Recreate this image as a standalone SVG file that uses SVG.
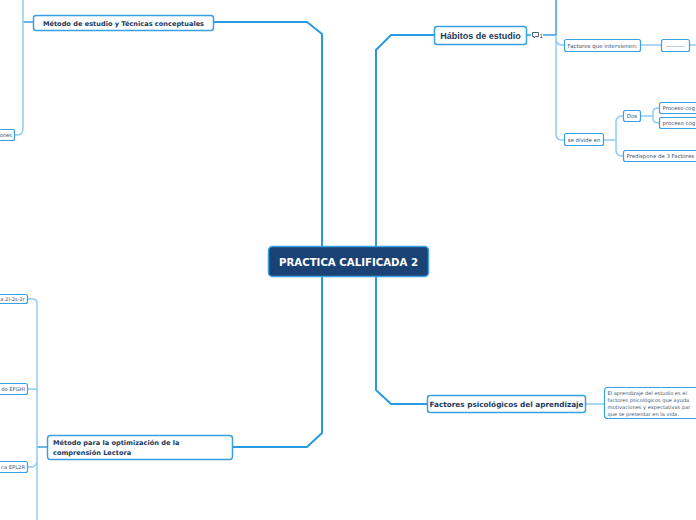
<svg xmlns="http://www.w3.org/2000/svg" width="696" height="520" viewBox="0 0 696 520">
<style>
.main{fill:none;stroke:#2a9ae0;stroke-width:2}
.sub{fill:none;stroke:#8fcdf2;stroke-width:1.5}
.subd{fill:none;stroke:#3a9ee0;stroke-width:1.5}
.n1{fill:#fff;stroke:#3aa0e4;stroke-width:1.5}
.n2{fill:#fff;stroke:#3aa0e4;stroke-width:1.2}
.t1{font-family:"DejaVu Sans",Verdana,sans-serif;font-weight:bold;fill:#1b3a5c}
.t2{font-family:"DejaVu Sans",Verdana,sans-serif;fill:#3d5670}
</style>
<rect width="696" height="520" fill="#fff"/>
<g id="connectors">
<path class="main" d="M214 22 H307 L322 34 V246"/>
<path class="main" d="M322 276 V433 L307 447 H233"/>
<path class="main" d="M376 246 V50 L391 35 H434"/>
<path class="main" d="M376 276 V390 L391 404 H427"/>
<path class="subd" d="M527 35 H531"/>
<path class="subd" d="M543 35 H556"/>
<path class="subd" d="M556 0 V35"/>
<path class="sub" d="M556 35 V134 Q556 140 562 140 H564"/>
<path class="sub" d="M556 40 Q557 45 562 45 H564"/>
<path class="sub" d="M641 45 H661"/>
<path class="sub" d="M690 45 H696"/>
<path class="sub" d="M604 140 H616"/>
<path class="sub" d="M616 140 V122 Q616 116 622 116 H623"/>
<path class="sub" d="M616 140 V150 Q616 156 622 156 H623"/>
<path class="sub" d="M641 116 H653"/>
<path class="sub" d="M653 116 V112 Q653 108 659 108"/>
<path class="sub" d="M653 116 V119 Q653 123 659 123"/>
<path class="sub" d="M586 404 H604"/>
<circle cx="597" cy="404" r="0.8" fill="#8fcdf2"/>
<path class="subd" d="M23 22 H33"/>
<path class="sub" d="M23 0 V128 Q23 135 17 135 H15"/>
<path class="subd" d="M37 447 H47"/>
<path class="sub" d="M37 520 V303 Q37 299 33 299 H28"/>
<path class="sub" d="M37 390 Q36 389 33 389 H28"/>
<path class="sub" d="M37 462 Q35 467 32 467 H28"/>
</g>
<g id="central">
<rect x="268.5" y="246.5" width="160" height="30" rx="4" fill="#1a4274" stroke="#3aa0e4" stroke-width="1.5"/>
<text x="348.5" y="265.5" text-anchor="middle" font-family="DejaVu Sans,Verdana,sans-serif" font-weight="bold" font-size="10.2" fill="#fff">PRACTICA CALIFICADA 2</text>
</g>
<g id="habitos">
<rect class="n1" x="434.5" y="26.5" width="92" height="18" rx="2.5"/>
<text x="480.5" y="38.5" text-anchor="middle" font-family="Liberation Sans,Arial,sans-serif" font-weight="bold" font-size="9" fill="#1b3a5c">Hábitos de estudio</text>
</g>
<g id="comment">
<path d="M532.5 32.5 H538.5 V36.5 H535.5 L534 38 V36.5 H532.5 Z" fill="none" stroke="#1b3a5c" stroke-width="0.8"/>
<text x="539.5" y="38" font-family="Liberation Sans,Arial,sans-serif" font-size="6" fill="#1b3a5c">1</text>
</g>
<g id="factores-intervienen">
<rect class="n2" x="564.5" y="39.5" width="76" height="12" rx="2"/>
<text x="567.5" y="47.5" class="t2" font-size="5.5">Factores que intervienen:</text>
</g>
<g id="dashes">
<rect class="n2" x="661.5" y="39.5" width="28" height="12" rx="2"/>
<text x="675.5" y="47.5" text-anchor="middle" class="t2" font-size="5.2">----------</text>
</g>
<g id="se-divide">
<rect class="n2" x="564.5" y="133.5" width="39" height="12" rx="2"/>
<text x="584" y="141.5" text-anchor="middle" class="t2" font-size="5.4">se divide en</text>
</g>
<g id="dos">
<rect class="n2" x="623.5" y="110.5" width="17" height="11" rx="2"/>
<text x="632" y="118" text-anchor="middle" class="t2" font-size="5.4">Dos</text>
</g>
<g id="proceso1">
<rect class="n2" x="659.5" y="102.5" width="45" height="11" rx="2"/>
<text x="662.5" y="110" class="t2" font-size="5.4">Proceso cog</text>
</g>
<g id="proceso2">
<rect class="n2" x="659.5" y="117.5" width="45" height="11" rx="2"/>
<text x="662.5" y="125" class="t2" font-size="5.4">proceso cog</text>
</g>
<g id="predispone">
<rect class="n2" x="623.5" y="150.5" width="80" height="11" rx="2"/>
<text x="626.5" y="158" class="t2" font-size="5.4">Predispone de 3 Factores</text>
</g>
<g id="factores-psico">
<rect class="n1" x="427.5" y="395.5" width="158" height="17" rx="2.5"/>
<text x="506.5" y="406.5" text-anchor="middle" class="t1" font-size="7.3">Factores psicológicos del aprendizaje</text>
</g>
<g id="texto-aprendizaje">
<rect class="n2" x="604.5" y="387.5" width="100" height="31" rx="3"/>
<text class="t2" font-size="5.1" fill="#34506c">
<tspan x="607.5" y="395">El aprendizaje del estudio es el</tspan>
<tspan x="607.5" y="402">factores psicológicos que ayuda</tspan>
<tspan x="607.5" y="409">motivaciones y expectativas par</tspan>
<tspan x="607.5" y="416">que se presentar en la vida.</tspan>
</text>
</g>
<g id="metodo-estudio">
<rect class="n1" x="33.5" y="15.5" width="180" height="15" rx="2.5"/>
<text x="123.5" y="25.5" text-anchor="middle" class="t1" font-size="6.6">Método de estudio y Técnicas conceptuales</text>
</g>
<g id="ones">
<rect class="n2" x="-5.5" y="129.5" width="20" height="11" rx="2"/>
<text x="12" y="137" text-anchor="end" class="t2" font-size="5.2">ones</text>
</g>
<g id="metodo-optimizacion">
<rect class="n1" x="47.5" y="435.5" width="185" height="24" rx="3"/>
<text class="t1" font-size="6.6">
<tspan x="53" y="445">Método para la optimización de la</tspan>
<tspan x="53" y="454.5">comprensión Lectora</tspan>
</text>
</g>
<g id="tecnica-2l">
<rect class="n2" x="-5.5" y="294.5" width="33" height="9" rx="2"/>
<text x="25" y="301" text-anchor="end" class="t2" font-size="5.2">a 2l-2s-2r</text>
</g>
<g id="metodo-efghi">
<rect class="n2" x="-5.5" y="383.5" width="33" height="11" rx="2"/>
<text x="25" y="391" text-anchor="end" class="t2" font-size="5.2">do EFGHI</text>
</g>
<g id="tecnica-epl2r">
<rect class="n2" x="-5.5" y="461.5" width="33" height="11" rx="2"/>
<text x="25" y="469" text-anchor="end" class="t2" font-size="5.2">ca EPL2R</text>
</g>
</svg>
